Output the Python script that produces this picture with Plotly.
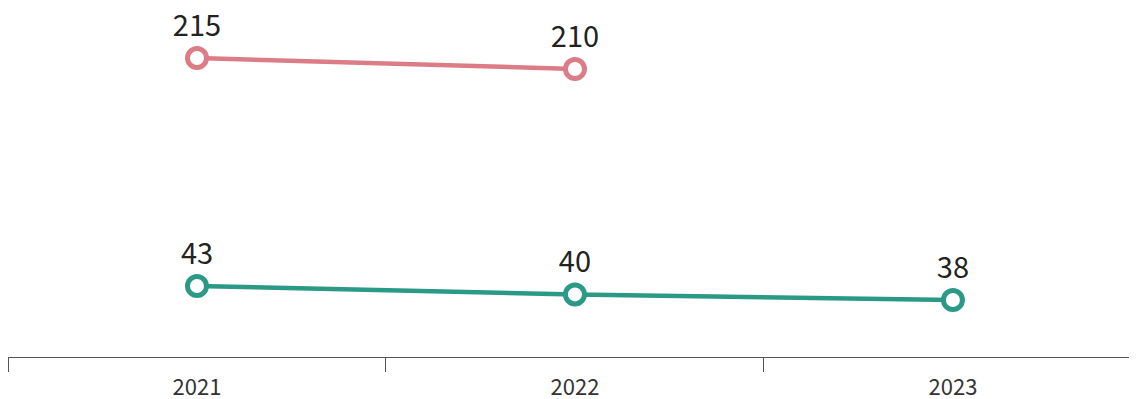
import plotly.graph_objects as go

years = ["2021", "2022", "2023"]
pink_values = [215, 210, None]
green_values = [43, 40, 38]

pink = "#DB7C87"
green = "#2A9A86"
font_family = "Noto Sans CJK JP, Noto Sans, sans-serif"

fig = go.Figure()


def add_series(values, color, axis):
    fig.add_trace(go.Scatter(
        x=years, y=values, yaxis=axis,
        mode="lines+markers",
        line=dict(color=color, width=4.5),
        marker=dict(size=19, color="white", line=dict(color=color, width=5)),
        connectgaps=False, hoverinfo="skip", showlegend=False, cliponaxis=False,
    ))
    # value labels: invisible bigger markers push the text further above the point
    fig.add_trace(go.Scatter(
        x=years, y=values, yaxis=axis,
        mode="markers+text",
        text=["" if v is None else str(v) for v in values],
        textposition="top center",
        textfont=dict(size=29, color="#222", family=font_family),
        marker=dict(size=22, color="rgba(0,0,0,0)", line=dict(width=0)),
        hoverinfo="skip", showlegend=False, cliponaxis=False,
    ))


add_series(pink_values, pink, "y2")
add_series(green_values, green, "y")

fig.update_layout(
    width=1129, height=399,
    margin=dict(l=0, r=0, t=6, b=50),
    paper_bgcolor="white", plot_bgcolor="white",
    font=dict(family=font_family, color="#333"),
    xaxis=dict(
        type="category", range=[-0.5, 2.487], automargin=False,
        tickson="boundaries", ticks="outside", ticklen=14, tickcolor="#555", tickwidth=1,
        ticklabelstandoff=11,
        showline=True, linecolor="#555", linewidth=1,
        showgrid=False, zeroline=False,
        tickfont=dict(size=22, color="#333", family=font_family),
    ),
    yaxis=dict(range=[17.64, 140.14], visible=False, showgrid=False, zeroline=False),
    yaxis2=dict(range=[79.1, 235.0], overlaying="y", visible=False,
                showgrid=False, zeroline=False),
)

fig.write_html("out.html")
